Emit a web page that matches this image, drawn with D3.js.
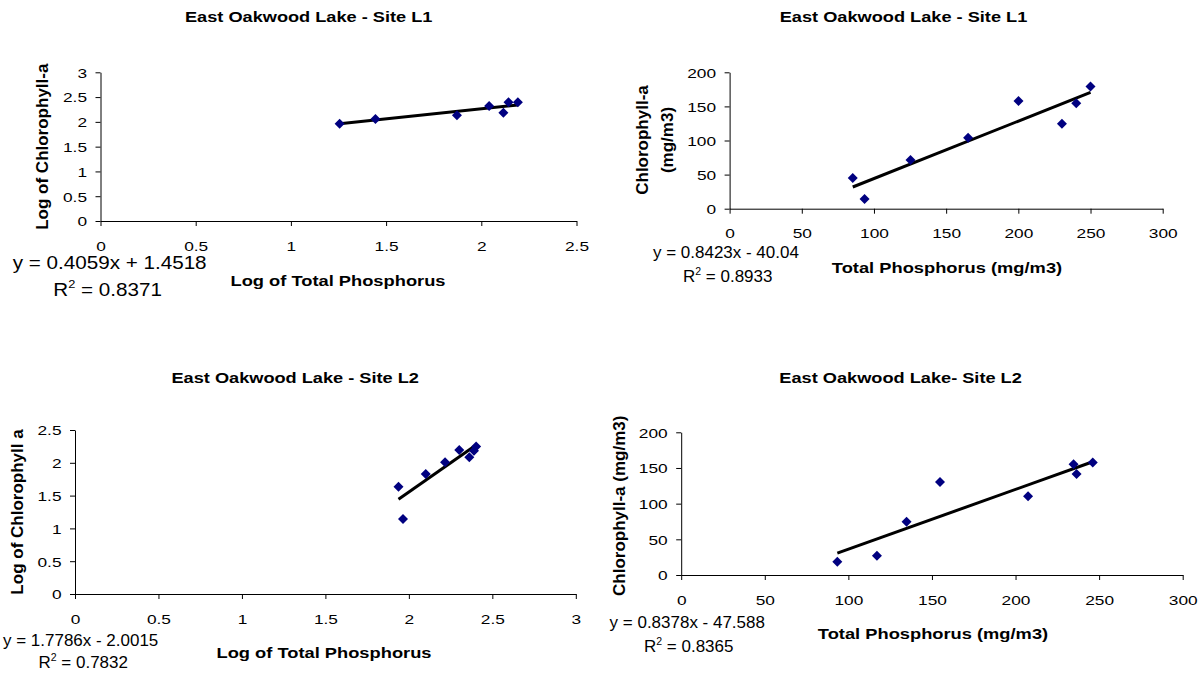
<!DOCTYPE html>
<html>
<head>
<meta charset="utf-8">
<script src="https://cdn.jsdelivr.net/npm/d3@7"></script>
<style>
  body { margin: 0; background: #fff; }
  svg { display: block; }
  text { font-family: "Liberation Sans", Arial, sans-serif; fill: #000; }
</style>
</head>
<body>
<svg id="chart" width="1201" height="675"></svg>
<script>
// ---------------- data ----------------
const chartTitles = ["East Oakwood Lake - Site L1", "East Oakwood Lake - Site L1",
                     "East Oakwood Lake - Site L2", "East Oakwood Lake- Site L2"];
const xAxisTitles = ["Log of Total Phosphorus", "Total Phosphorus (mg/m3)",
                     "Log of Total Phosphorus", "Total Phosphorus (mg/m3)"];
const yAxisTitles = [["Log of Chlorophyll-a"], ["Chlorophyll-a", "(mg/m3)"],
                     ["Log of Chlorophyll a"], ["Chlorophyll-a (mg/m3)"]];

// Site L1, log values
const l1LogTP  = [1.256, 1.444, 1.872, 2.041, 2.116, 2.143, 2.192];
const l1LogChl = [1.963, 2.058, 2.133, 2.320, 2.185, 2.395, 2.395];
// Site L1, raw values
const l1TP  = [85.3, 93.5, 125.3, 165.2, 200.1, 230.2, 240.1, 250.0];
const l1Chl = [45.0, 14.2, 71.4, 104.2, 158.0, 124.7, 154.6, 179.0];
// Site L2, log values
const l2LogTP  = [1.938, 1.965, 2.101, 2.217, 2.302, 2.362, 2.390, 2.403];
const l2LogChl = [1.636, 1.143, 1.829, 2.007, 2.195, 2.083, 2.185, 2.250];
// Site L2, raw values
const l2TP  = [93.4, 117.1, 134.8, 154.8, 207.5, 234.7, 236.5, 246.2];
const l2Chl = [18.7, 27.1, 74.8, 130.4, 110.3, 155.1, 141.6, 157.5];

// Trend lines (linear fits as printed on the charts)
const slopes     = [0.4059, 0.8423, 1.7786, 0.8378];
const intercepts = [1.4518, -40.04, -2.0015, -47.588];
const eqLabels   = ["y = 0.4059x + 1.4518", "y = 0.8423x - 40.04",
                    "y = 1.7786x - 2.0015", "y = 0.8378x - 47.588"];
const r2Labels   = ["0.8371", "0.8933", "0.7832", "0.8365"];

// Tick values
const logTicksL1X = [0, 0.5, 1, 1.5, 2, 2.5];
const logTicksL1Y = [0, 0.5, 1, 1.5, 2, 2.5, 3];
const rawTicksX   = [0, 50, 100, 150, 200, 250, 300];
const rawTicksY   = [0, 50, 100, 150, 200];
const logTicksL2X = [0, 0.5, 1, 1.5, 2, 2.5, 3];
const logTicksL2Y = [0, 0.5, 1, 1.5, 2, 2.5];

const seriesX = [l1LogTP, l1TP, l2LogTP, l2TP];
const seriesY = [l1LogChl, l1Chl, l2LogChl, l2Chl];
const ticksX  = [logTicksL1X, rawTicksX, logTicksL2X, rawTicksX];
const ticksY  = [logTicksL1Y, rawTicksY, logTicksL2Y, rawTicksY];

// ---------------- layout ----------------
const layouts = [
  { px: [100.5, 576.5], py: [221, 72.3], title: [308.7, 21.7], xt: [338, 285.5],
    yt: [[41.9, 146.7]], eq: [12.7, 268.5], r2: [53.3, 295.5], eqSize: 17.5, eqSx: 1.18 },
  { px: [729.6, 1162.7], py: [208.7, 72.3], title: [903.5, 21.7], xt: [947, 273.3],
    yt: [[642.3, 140], [667.3, 140]], eq: [653, 258], r2: [683, 281.7], eqSize: 16.5, eqSx: 1.03 },
  { px: [75, 575.8], py: [594, 430], title: [295.2, 382.7], xt: [324, 658.3],
    yt: [[16.7, 512]], eq: [3, 646], r2: [38.5, 668.3], eqSize: 16.5, eqSx: 1.03 },
  { px: [681.2, 1182.7], py: [575, 432.3], title: [900.6, 382.7], xt: [933, 639.3],
    yt: [[618.4, 505.8]], eq: [609.6, 627.5], r2: [644, 651.7], eqSize: 16.5, eqSx: 1.03 }
];

const TICK_SIZE = 13.5, TICK_SX = 1.28, TICK_OFF = 29.5;
const TITLE_SIZE = 14, TITLE_SX = 1.3;
const XT_SIZE = 15, XT_SX = 1.22;
const YT_SIZE = 17;
const MARKER = "#000080";

const svg = d3.select("#chart");

function label(g, x, y, str, o) {
  const t = g.append("text")
    .attr("transform", `translate(${x},${y}) scale(${o.sx || 1},1)` + (o.rot ? " rotate(-90)" : ""))
    .attr("text-anchor", o.anchor || "middle")
    .style("font-size", o.size + "px")
    .style("font-weight", o.bold ? "bold" : "normal");
  if (o.dy) t.attr("dy", o.dy);
  t.text(str);
  return t;
}

function drawChart(i) {
  const L = layouts[i];
  const g = svg.append("g");
  const xt = ticksX[i], yt = ticksY[i];
  const x = d3.scaleLinear().domain([xt[0], xt[xt.length - 1]]).range(L.px);
  const y = d3.scaleLinear().domain([yt[0], yt[yt.length - 1]]).range(L.py);

  // axes
  const xa = g.append("g")
    .attr("transform", `translate(0,${y(yt[0])})`)
    .call(d3.axisBottom(x).tickValues(xt).tickFormat(d => String(d)).tickSize(5).tickSizeOuter(0));
  xa.selectAll("text")
    .attr("y", 0).attr("dy", 0)
    .attr("transform", `translate(0,${TICK_OFF}) scale(${TICK_SX},1)`)
    .style("font-size", TICK_SIZE + "px")
    .style("font-family", '"Liberation Sans", Arial, sans-serif');

  const ya = g.append("g")
    .attr("transform", `translate(${x(xt[0])},0)`)
    .call(d3.axisLeft(y).tickValues(yt).tickFormat(d => String(d)).tickSize(5).tickSizeOuter(0));
  ya.selectAll("text")
    .attr("x", 0).attr("dy", "0.36em")
    .attr("transform", `translate(-13.5,0) scale(${TICK_SX},1)`)
    .style("font-size", TICK_SIZE + "px")
    .style("font-family", '"Liberation Sans", Arial, sans-serif');
  g.selectAll(".domain, .tick line").attr("stroke", "#000").attr("stroke-width", 1);

  // trend line
  const xs = seriesX[i], ys = seriesY[i];
  const xmin = d3.min(xs), xmax = d3.max(xs);
  const trend = [xmin, xmax].map(v => [v, slopes[i] * v + intercepts[i]]);
  g.append("path")
    .attr("d", d3.line().x(d => x(d[0])).y(d => y(d[1]))(trend))
    .attr("stroke", "#000").attr("stroke-width", 3).attr("fill", "none");

  // markers
  g.selectAll("path.pt").data(xs.map((v, k) => [v, ys[k]])).join("path")
    .attr("class", "pt")
    .attr("transform", d => `translate(${x(d[0])},${y(d[1])})`)
    .attr("d", "M0,-5L5,0L0,5L-5,0Z")
    .attr("fill", MARKER);

  // titles
  label(g, L.title[0], L.title[1], chartTitles[i], { size: TITLE_SIZE, sx: TITLE_SX, bold: true });
  label(g, L.xt[0], L.xt[1], xAxisTitles[i], { size: XT_SIZE, sx: XT_SX, bold: true });
  yAxisTitles[i].forEach((s, k) => {
    label(g, L.yt[k][0], L.yt[k][1], s, { size: YT_SIZE, bold: true, rot: true, dy: "0.36em" });
  });

  // equation and R²
  label(g, L.eq[0], L.eq[1], eqLabels[i], { size: L.eqSize, sx: L.eqSx, anchor: "start" });
  const r = label(g, L.r2[0], L.r2[1], "", { size: L.eqSize, sx: L.eqSx, anchor: "start" });
  r.append("tspan").text("R");
  r.append("tspan").attr("dy", -L.eqSize * 0.42).style("font-size", (L.eqSize * 0.62) + "px").text("2");
  r.append("tspan").attr("dy", L.eqSize * 0.42).text(" = " + r2Labels[i]);
}

for (let i = 0; i < 4; i++) drawChart(i);
</script>
</body>
</html>
